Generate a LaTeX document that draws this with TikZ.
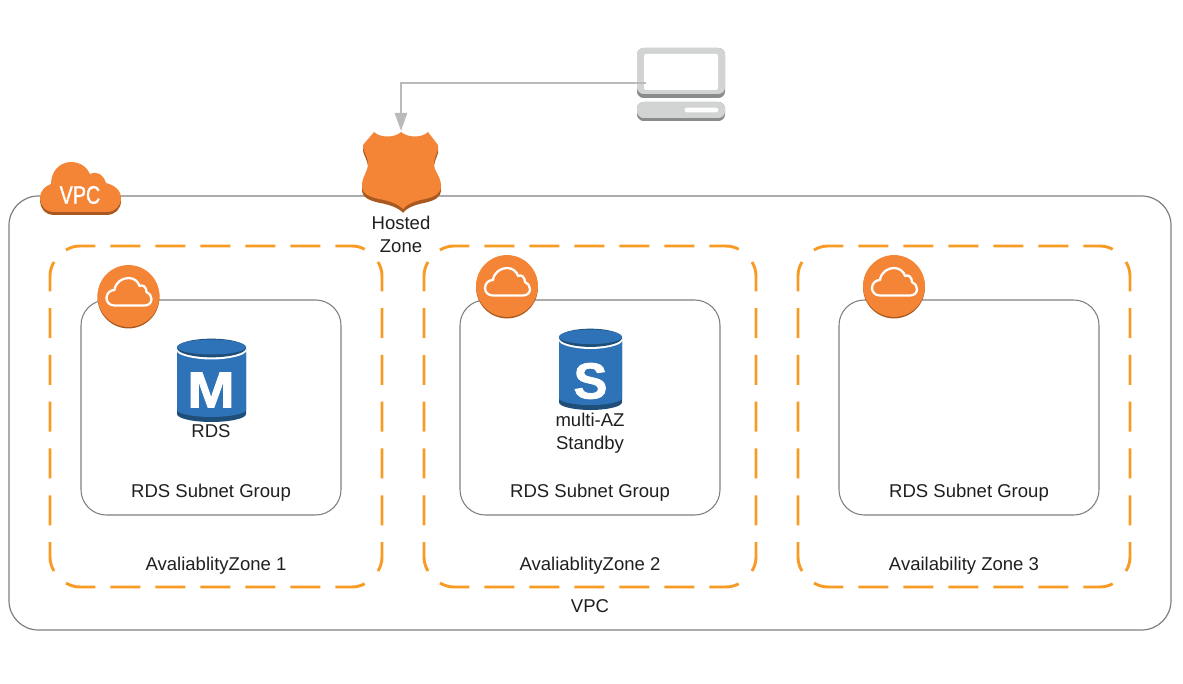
\documentclass[tikz,border=0pt]{standalone}
\usepackage{fontspec}
\setmainfont{Liberation Sans}
\newfontfamily\dbfont[UprightFont=* Bold, FakeBold=1.6]{Liberation Sans}
\newfontfamily\vpcfont[FakeBold=1.2]{Liberation Sans}
\usetikzlibrary{arrows.meta}
\definecolor{awsorange}{HTML}{F58536}
\definecolor{awsorangedark}{HTML}{A9591F}
\definecolor{awsblue}{HTML}{2E73B8}
\definecolor{awsbluedark}{HTML}{1F4E79}
\definecolor{zoneorange}{HTML}{F89B25}
\definecolor{linegray}{HTML}{7F7F7F}
\definecolor{flowgray}{HTML}{BABABA}
\definecolor{laptopgray}{HTML}{D2D3D3}
\definecolor{laptopdark}{HTML}{8A8B8B}
\definecolor{labelgray}{HTML}{1F1F1F}
\newcommand{\shieldoutline}{(374,132) .. controls (380,138) and (395,138) .. (401,132) .. controls (408,138) and (422,138) .. (428,132) -- (438,145) .. controls (440,149) and (434,156) .. (434,164) .. controls (434,172) and (441,176) .. (441,186) .. controls (441,194) and (434,197) .. (425,199) .. controls (415,201) and (407,204) .. (403,209) .. controls (398,204) and (390,201) .. (379,199) .. controls (370,197) and (362,194) .. (362,186) .. controls (362,176) and (368,172) .. (368,164) .. controls (368,156) and (362,149) .. (363,145) -- cycle}
\newcommand{\vpccloudoutline}{(54,212) .. controls (45,212) and (40,205) .. (40,198) .. controls (40,191) and (45,186) .. (51,184) .. controls (51,171) and (60,162) .. (71,162) .. controls (80,162) and (87,167) .. (90,174) .. controls (95,171) and (103,173) .. (106,183) .. controls (114,185) and (121,190) .. (121,198) .. controls (121,206) and (115,212) .. (107,212) -- cycle}
\tikzset{
  x=0.75pt, y=-0.75pt,
  vpcbox/.style={draw=linegray, line width=0.9pt, rounded corners=22pt, minimum width=871.5pt, minimum height=325.5pt},
  zoneline/.style={draw=zoneorange, line width=2.2pt},
  subnetbox/.style={draw=linegray, line width=0.8pt, rounded corners=19pt, minimum width=195pt, minimum height=161.25pt},
  labeltext/.style={text=labelgray, font=\fontsize{13.9}{17.25}\selectfont, inner sep=0pt, align=center},
  dbletter/.style={text=white, font=\fontsize{38}{38}\dbfont\selectfont, inner sep=0pt},
  flowline/.style={draw=flowgray, line width=2.1pt, -{Triangle[length=13.5pt, width=9pt]}},
  zoneframe/.pic={
    \draw [zoneline, dash pattern=on 22.5pt off 11.25pt] (16,4) .. controls (20,1.5) and (25,0) .. (30,0) -- (302,0) .. controls (307,0) and (312,1.5) .. (316,4);
    \draw [zoneline, dash pattern=on 22.5pt off 11.25pt] (16,337) .. controls (20,339.5) and (25,341) .. (30,341) -- (302,341) .. controls (307,341) and (312,339.5) .. (316,337);
    \draw [zoneline, dash pattern=on 22.5pt off 12.6pt] (4,16) .. controls (1.5,20) and (0,25) .. (0,30) -- (0,311) .. controls (0,316) and (1.5,321) .. (4,325);
    \draw [zoneline, dash pattern=on 22.5pt off 12.6pt] (328,16) .. controls (330.5,20) and (332,25) .. (332,30) -- (332,311) .. controls (332,316) and (330.5,321) .. (328,325);
  },
  cloudbadge/.pic={
    \fill [awsorangedark] (0,1.5) circle [radius=23.2pt];
    \fill [awsorange] (0,0) circle [radius=23.2pt];
    \draw [white, line width=1.7pt, line join=round] (-14,9.5) .. controls (-19,9.5) and (-22,6) .. (-22,2) .. controls (-22,-3) and (-18,-6) .. (-14,-6) .. controls (-13,-14) and (-6,-18) .. (0,-18) .. controls (6,-18) and (10,-14) .. (11,-10) .. controls (14,-12) and (18,-9) .. (18,-4) .. controls (21,-3) and (23,0) .. (23,3) .. controls (23,7) and (20,9.5) .. (16,9.5) -- cycle;
  },
  dbicon/.pic={
    \fill [awsbluedark] (-34.5,-33) -- (-34.5,33) .. controls (-34.5,38) and (-16,41) .. (0,41) .. controls (16,41) and (34.5,38) .. (34.5,33) -- (34.5,-33) -- cycle;
    \fill [awsblue] (-34.5,-29) -- (-34.5,29) .. controls (-34.5,33) and (-16,36) .. (0,36) .. controls (16,36) and (34.5,33) .. (34.5,29) -- (34.5,-29) -- cycle;
    \fill [white] (-34.5,-33) -- (-34.5,-30) .. controls (-34.5,-25.5) and (-16,-21.5) .. (0,-21.5) .. controls (16,-21.5) and (34.5,-25.5) .. (34.5,-30) -- (34.5,-33) -- cycle;
    \fill [awsbluedark] (0,-33) ellipse [x radius=25.875pt, y radius=7pt];
    \fill [awsblue] (0,-34) ellipse [x radius=25.875pt, y radius=5.6pt];
  },
}
\begin{document}
\begin{tikzpicture}
    \useasboundingbox (0,0) rectangle (1183,684);
    \node (vpc) [vpcbox] at (590,413) {};
    \pic at (50,246) {zoneframe};
    \pic at (424,246) {zoneframe};
    \pic at (798,246) {zoneframe};
    \begin{scope}[every node/.style={subnetbox}]
        \node (subnet1) at (211,407.5) {};
        \node (subnet2) at (590,407.5) {};
        \node (subnet3) at (969,407.5) {};
    \end{scope}
    % badges and icons
    \pic at (128.5,296) {cloudbadge};
    \pic at (507,286) {cloudbadge};
    \pic at (894,286) {cloudbadge};
    \pic at (211.5,381) {dbicon};
    \pic [xscale=0.913, yscale=0.976] at (590.5,370) {dbicon};
    \node (dbm) [dbletter, xscale=1.12] at (211,390) {M};
    \node (dbs) [dbletter] at (590.5,381) {S};
    % vpc cloud
    \fill [awsorangedark, yshift=-2.2pt] \vpccloudoutline;
    \fill [awsorange] \vpccloudoutline;
    \node (vpcicon) [text=white, font=\fontsize{19}{19}\vpcfont\selectfont, inner sep=0pt, xscale=0.78] at (80,195) {VPC};
    % laptop
    \node (screenback) [fill=laptopdark, rounded corners=5pt, minimum width=66pt, minimum height=37.5pt, inner sep=0pt] at (681,73) {};
    \node (screen) [fill=laptopgray, rounded corners=5pt, minimum width=66pt, minimum height=34.5pt, inner sep=0pt] at (681,71) {};
    \node (glass) [fill=white, rounded corners=1.5pt, minimum width=55.5pt, minimum height=27pt, inner sep=0pt] at (681,72) {};
    \node (baseback) [fill=laptopdark, rounded corners=5pt, minimum width=66pt, minimum height=14.25pt, inner sep=0pt] at (681,111.5) {};
    \node (base) [fill=laptopgray, rounded corners=5pt, minimum width=66pt, minimum height=12pt, inner sep=0pt] at (681,110) {};
    \node (slot) [fill=white, rounded corners=1.5pt, minimum width=25pt, minimum height=3.4pt, inner sep=0pt] at (701.5,110) {};
    % shield
    \fill [awsorangedark, yshift=-2.8pt] \shieldoutline;
    \fill [awsorange] \shieldoutline;
    \coordinate (shieldtop) at (401,131);
    \coordinate (laptopin) at (646,83);
    \draw [flowline] (laptopin) -| (shieldtop);
    % labels
    \begin{scope}[every node/.style={labeltext}]
        \node (hosted) at (401,234) {Hosted\\Zone};
        \node (rds) at (211,431) {RDS};
        \node (standby) at (590,433) {multi-AZ\\Standby};
        \node (group1) at (211,493) {RDS Subnet Group};
        \node (group2) at (590,493) {RDS Subnet Group};
        \node (group3) at (969,493) {RDS Subnet Group};
        \node (zonelabel1) at (216,566) {AvaliablityZone 1};
        \node (zonelabel2) at (590,566) {AvaliablityZone 2};
        \node (zonelabel3) at (964,566) {Availability Zone 3};
        \node (vpclabel) at (590,606) {VPC};
    \end{scope}
\end{tikzpicture}
\end{document}
